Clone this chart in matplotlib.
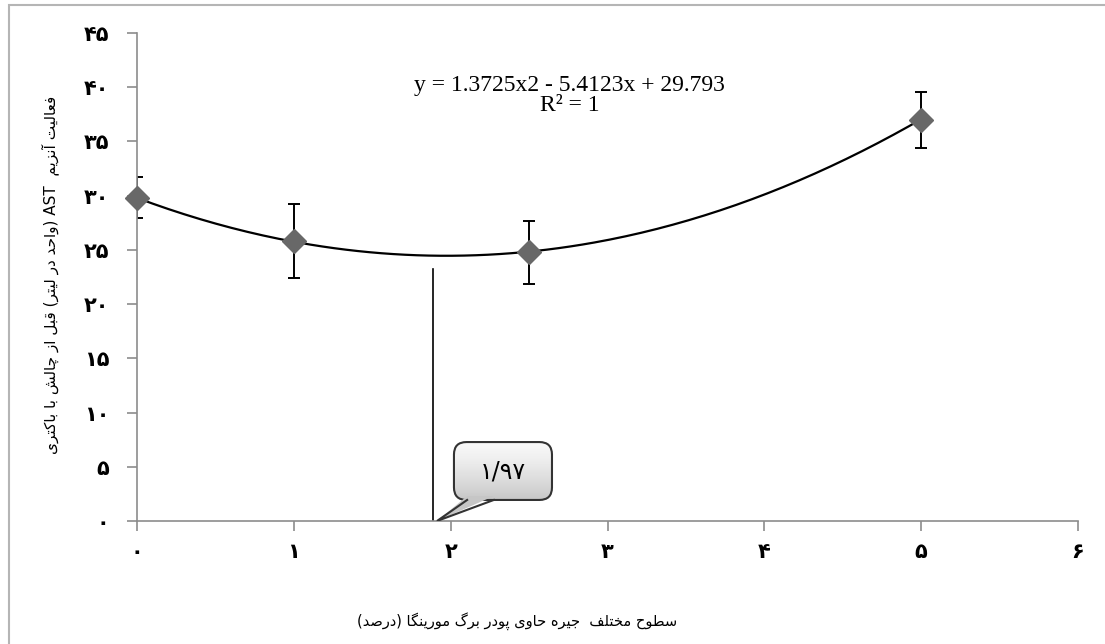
import numpy as np
import matplotlib.pyplot as plt
from matplotlib.patches import Rectangle, FancyBboxPatch, Polygon
import re

# moringa leaf powder level (%) and AST activity before bacterial challenge
levels = [0, 1, 2.5, 5]
ast_mean = [29.8, 25.8, 24.8, 37.0]
ast_err = [1.9, 3.4, 2.9, 2.6]

# quadratic trendline reported on the chart
coef = [1.3725, -5.4123, 29.793]
x_opt = 1.89
y_opt_top = 23.2
opt_label = '۱/۹۷'

x_ticks = [0, 1, 2, 3, 4, 5, 6]
y_ticks = [0, 5, 10, 15, 20, 25, 30, 35, 40, 45]

x_title = 'سطوح مختلف  جیره حاوی پودر برگ مورینگا (درصد)'
y_title = 'فعالیت آنزیم  AST (واحد در لیتر) قبل از چالش با باکتری'
eq_text = 'y = 1.3725x2 - 5.4123x + 29.793\nR² = 1'

# --- tiny arabic shaper (no arabic_reshaper available) ---
FORMS = {
    'ا': (0xFE8D, 0xFE8E), 'آ': (0xFE81, 0xFE82), 'د': (0xFEA9, 0xFEAA),
    'ر': (0xFEAD, 0xFEAE), 'ز': (0xFEAF, 0xFEB0), 'و': (0xFEED, 0xFEEE),
    'ب': (0xFE8F, 0xFE90, 0xFE91, 0xFE92), 'ت': (0xFE95, 0xFE96, 0xFE97, 0xFE98),
    'ج': (0xFE9D, 0xFE9E, 0xFE9F, 0xFEA0), 'ح': (0xFEA1, 0xFEA2, 0xFEA3, 0xFEA4),
    'خ': (0xFEA5, 0xFEA6, 0xFEA7, 0xFEA8), 'س': (0xFEB1, 0xFEB2, 0xFEB3, 0xFEB4),
    'ش': (0xFEB5, 0xFEB6, 0xFEB7, 0xFEB8), 'ص': (0xFEB9, 0xFEBA, 0xFEBB, 0xFEBC),
    'ط': (0xFEC1, 0xFEC2, 0xFEC3, 0xFEC4), 'ع': (0xFEC9, 0xFECA, 0xFECB, 0xFECC),
    'ف': (0xFED1, 0xFED2, 0xFED3, 0xFED4), 'ق': (0xFED5, 0xFED6, 0xFED7, 0xFED8),
    'ل': (0xFEDD, 0xFEDE, 0xFEDF, 0xFEE0), 'م': (0xFEE1, 0xFEE2, 0xFEE3, 0xFEE4),
    'ن': (0xFEE5, 0xFEE6, 0xFEE7, 0xFEE8), 'ه': (0xFEE9, 0xFEEA, 0xFEEB, 0xFEEC),
    'ی': (0xFBFC, 0xFBFD, 0xFBFE, 0xFBFF), 'پ': (0xFB56, 0xFB57, 0xFB58, 0xFB59),
    'چ': (0xFB7A, 0xFB7B, 0xFB7C, 0xFB7D), 'ک': (0xFB8E, 0xFB8F, 0xFB90, 0xFB91),
    'گ': (0xFB92, 0xFB93, 0xFB94, 0xFB95),
}


def shape(s):
    out = []
    for i, c in enumerate(s):
        if c not in FORMS:
            out.append(c)
            continue
        f = FORMS[c]
        prev = s[i - 1] if i > 0 else ''
        nxt = s[i + 1] if i + 1 < len(s) else ''
        join_prev = prev in FORMS and len(FORMS[prev]) == 4
        join_next = len(f) == 4 and nxt in FORMS
        if join_prev and join_next:
            out.append(chr(f[3]))
        elif join_prev:
            out.append(chr(f[1]))
        elif join_next:
            out.append(chr(f[2]))
        else:
            out.append(chr(f[0]))
    return ''.join(out)


def rtl(s):
    vis = shape(s)[::-1].translate(str.maketrans('()', ')('))
    return re.sub(r'[A-Za-z0-9.]+', lambda m: m.group(0)[::-1], vis)


def fa_digits(v):
    return str(v).translate(str.maketrans('0123456789', '۰۱۲۳۴۵۶۷۸۹'))


fig = plt.figure(figsize=(11.05, 6.44), dpi=100)
fig.patches.append(Rectangle((9 / 1105, -0.1), 1.2, 1.1 - 5 / 644, transform=fig.transFigure,
                             fill=False, ec='#b5b5b5', lw=1.5))
ax = fig.add_axes([137 / 1105, 1 - 521 / 644, (1078 - 137) / 1105, (521 - 33) / 644])
ax.set_xlim(0, 6)
ax.set_ylim(0, 45)

xs = np.linspace(0, 5, 200)
ax.plot(xs, np.polyval(coef, xs), color='black', lw=1.6, zorder=3)
ax.errorbar(levels, ast_mean, yerr=ast_err, fmt='none', ecolor='black', elinewidth=1.4,
            capsize=4, capthick=1.4, zorder=2)
ax.plot(levels, ast_mean, 'D', color='#686868', ms=12.5, mec='#686868', zorder=4, clip_on=False)

ax.plot([x_opt, x_opt], [0, y_opt_top], color='black', lw=1.2)

# callout box with gradient fill and a tail to the optimum level
aspect = 156.83 / 10.844
box = FancyBboxPatch((2.021, 1.94), 0.625, 5.34, boxstyle='round,pad=0,rounding_size=0.08',
                     mutation_aspect=aspect, fc='none', ec='#333333', lw=1.5, zorder=6)
ax.add_patch(box)
grad = np.linspace(0, 1, 100).reshape(-1, 1)
img = ax.imshow(grad, cmap='Greys', vmin=-0.18, vmax=3.39, extent=(2.021, 2.646, 1.94, 7.28),
                origin='upper', aspect='auto', zorder=5)
img.set_clip_path(box)
tail = Polygon([(2.105, 2.3), (1.913, 0.0), (2.275, 2.3)], closed=True,
               fc='#c6c6c6', ec='none', zorder=7)
ax.add_patch(tail)
ax.plot([2.105, 1.913, 2.275], [1.94, 0.0, 1.94], color='#333333', lw=1.5, zorder=8,
        solid_joinstyle='miter')
ax.text(2.334, 4.55, opt_label, ha='center', va='center', fontsize=17, zorder=9)

ax.text(2.76, 39.25, eq_text, ha='center', va='center', fontsize=17,
        family='Liberation Serif', linespacing=0.92)

ax.set_xlim(0, 6)
ax.set_ylim(0, 45)
ax.set_xticks(x_ticks)
ax.set_yticks(y_ticks)
ax.set_xticklabels([fa_digits(v) for v in x_ticks], fontsize=15, fontweight='bold')
ax.set_yticklabels([fa_digits(v) for v in y_ticks], fontsize=15, fontweight='bold')
ax.tick_params(axis='both', direction='out', length=7, color='#8c8c8c', width=1.2)
ax.tick_params(axis='x', pad=8)
ax.tick_params(axis='y', pad=13)
for side in ['top', 'right']:
    ax.spines[side].set_visible(False)
for side in ['left', 'bottom']:
    ax.spines[side].set_color('#8c8c8c')
    ax.spines[side].set_linewidth(1.2)

fig.text(517 / 1105, 1 - 621 / 644, rtl(x_title), ha='center', va='center', fontsize=10.5)
fig.text(50 / 1105, 1 - 275 / 644, rtl(y_title), ha='center', va='center', fontsize=11,
         rotation=90)

fig.savefig('out.png', dpi=100)
